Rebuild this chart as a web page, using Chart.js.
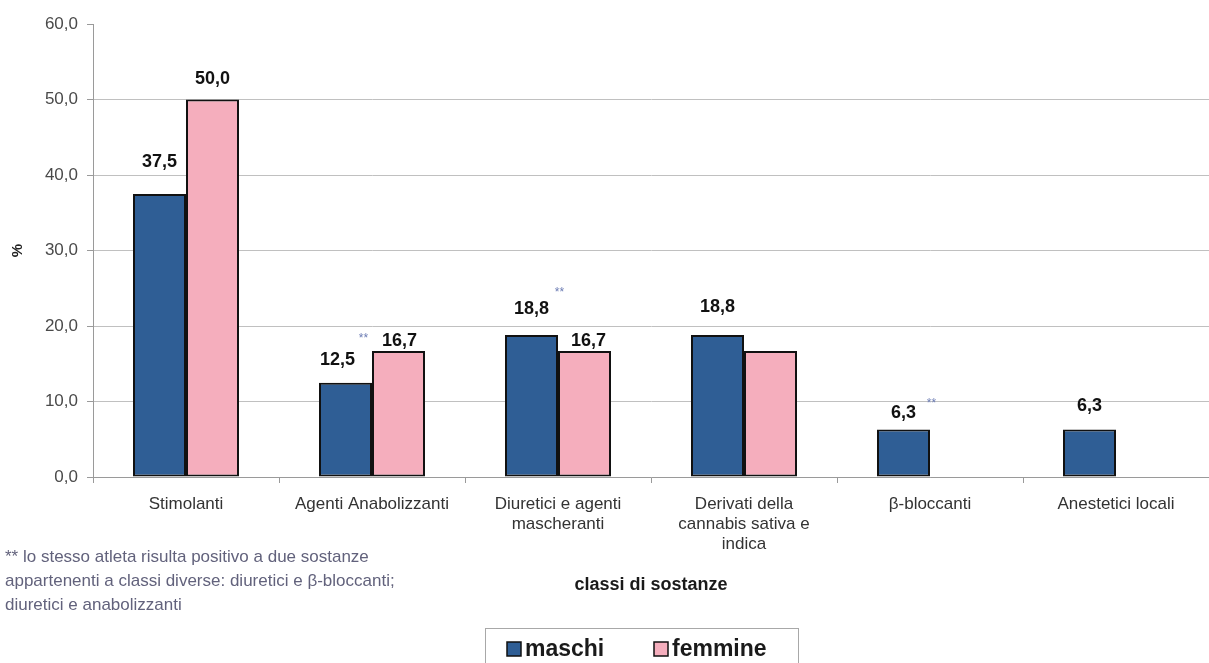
<!DOCTYPE html>
<html lang="it">
<head>
<meta charset="utf-8">
<title>Classi di sostanze</title>
<script src="https://cdn.jsdelivr.net/npm/chart.js@4.4.1/dist/chart.umd.min.js"></script>
<style>
  html, body { margin: 0; padding: 0; background: #fff; overflow: hidden; }
  #grafico { display: block; }
</style>
</head>
<body>
<canvas id="grafico" width="1209" height="663"></canvas>
<script>
// categorie e percentuali per sesso
const categorie = [
    'Stimolanti',
    'Agenti Anabolizzanti',
    ['Diuretici e agenti', 'mascheranti'],
    ['Derivati della', 'cannabis sativa e', 'indica'],
    'β-bloccanti',
    'Anestetici locali'
];
const maschi = [37.5, 12.5, 18.8, 18.8, 6.3, 6.3];
const femmine = [50.0, 16.7, 16.7, 16.7, null, null];

// quali valori vengono stampati sopra le barre
const etichetteMaschi = [true, true, true, true, true, true];
const etichetteFemmine = [true, true, true, false, false, false];

const tickY = [0, 10, 20, 30, 40, 50, 60];

const nota = [
    '** lo stesso atleta risulta positivo a due sostanze',
    'appartenenti a classi diverse: diuretici e β-bloccanti;',
    'diuretici e anabolizzanti'
];

const FONT = "'Liberation Sans', Arial, sans-serif";
const BLU = '#2f5e95';
const ROSA = '#f5aebd';

function formatta(v) {
    return v.toFixed(1).replace('.', ',');
}

// valori sopra le barre + asterischi di richiamo
const pluginEtichette = {
    id: 'etichette',
    afterDatasetsDraw(chart, args, opts) {
        const ctx = chart.ctx;
        ctx.save();
        ctx.textAlign = 'center';
        ctx.textBaseline = 'middle';
        const posizioni = [];
        chart.data.datasets.forEach((ds, d) => {
            const meta = chart.getDatasetMeta(d);
            posizioni[d] = [];
            meta.data.forEach((bar, i) => {
                const v = ds.data[i];
                if (v == null) return;
                const x = bar.x + opts.dx[d][i];
                const y = bar.y - opts.distanza[d][i];
                posizioni[d][i] = { x, y };
                if (!opts.mostra[d][i]) return;
                ctx.font = 'bold 18px ' + FONT;
                ctx.fillStyle = '#111';
                ctx.fillText(formatta(v), x, y);
            });
        });
        ctx.font = '12px ' + FONT;
        ctx.fillStyle = '#6d7db4';
        opts.asterischi.forEach(a => {
            const p = posizioni[a.ds][a.i];
            if (p) ctx.fillText('**', p.x + a.dx, p.y + a.dy);
        });
        ctx.restore();
    }
};

// nota a piè di grafico e legenda incorniciata
const pluginDecorazioni = {
    id: 'decorazioni',
    afterDraw(chart) {
        const ctx = chart.ctx;
        ctx.save();
        ctx.font = '17px ' + FONT;
        ctx.fillStyle = '#62627c';
        ctx.textAlign = 'left';
        ctx.textBaseline = 'middle';
        nota.forEach((riga, k) => ctx.fillText(riga, 5, 557 + k * 24));

        // cornice legenda
        ctx.strokeStyle = '#a8a8a8';
        ctx.lineWidth = 1;
        ctx.strokeRect(485.5, 628.5, 313, 50);

        const voci = chart.data.datasets.map(ds => ({ testo: ds.label, colore: ds.backgroundColor }));
        const xVoci = [507, 654];
        ctx.font = 'bold 23px ' + FONT;
        voci.forEach((v, k) => {
            const x = xVoci[k];
            ctx.fillStyle = v.colore;
            ctx.fillRect(x, 642, 14, 14);
            ctx.strokeStyle = '#111';
            ctx.lineWidth = 1.5;
            ctx.strokeRect(x, 642, 14, 14);
            ctx.fillStyle = '#1a1a1a';
            ctx.fillText(v.testo, x + 18, 650);
        });
        ctx.restore();
    }
};

new Chart(document.getElementById('grafico'), {
    type: 'bar',
    data: {
        labels: categorie,
        datasets: [
            {
                label: 'maschi',
                data: maschi,
                backgroundColor: BLU,
                borderColor: '#111',
                borderWidth: 2,
                borderSkipped: false
            },
            {
                label: 'femmine',
                data: femmine,
                backgroundColor: ROSA,
                borderColor: '#111',
                borderWidth: 2,
                borderSkipped: false
            }
        ]
    },
    options: {
        responsive: false,
        animation: false,
        categoryPercentage: 0.57,
        barPercentage: 1,
        layout: { padding: { top: 24, left: 0, right: 0, bottom: 0 } },
        plugins: {
            legend: { display: false },
            tooltip: { enabled: false },
            etichette: {
                mostra: [etichetteMaschi, etichetteFemmine],
                distanza: [[32, 23, 26, 28, 16, 23], [20, 10, 10, 0, 0, 0]],
                dx: [[0, -8, 0, 0, 0, 0], [0, 1, 4, 0, 0, 0]],
                asterischi: [
                    { ds: 1, i: 1, dx: -36, dy: -2 },
                    { ds: 0, i: 2, dx: 28, dy: -16 },
                    { ds: 0, i: 4, dx: 28, dy: -10 }
                ]
            }
        },
        scales: {
            x: {
                afterFit(scale) { scale.height = 186; },
                grid: {
                    offset: true,
                    drawOnChartArea: false,
                    drawTicks: true,
                    tickLength: 6,
                    tickColor: '#9a9a9a'
                },
                border: { color: '#9a9a9a', width: 1 },
                ticks: {
                    padding: 12,
                    color: '#333',
                    font: { family: FONT, size: 17, lineHeight: 1.15 },
                    maxRotation: 0,
                    autoSkip: false
                },
                title: {
                    display: true,
                    text: 'classi di sostanze',
                    color: '#1a1a1a',
                    font: { family: FONT, size: 18, weight: 'bold' },
                    padding: { top: 0, bottom: 67 }
                }
            },
            y: {
                min: tickY[0],
                max: tickY[tickY.length - 1],
                afterFit(scale) { scale.width = 93; },
                afterBuildTicks(scale) { scale.ticks = tickY.map(v => ({ value: v })); },
                grid: {
                    color: c => (c.tick && c.tick.value === 60) ? 'rgba(0,0,0,0)' : '#c0c0c0',
                    lineWidth: 1,
                    tickLength: 6,
                    tickColor: '#9a9a9a'
                },
                border: { color: '#9a9a9a', width: 1 },
                ticks: {
                    padding: 9,
                    color: '#4a4a4a',
                    font: { family: FONT, size: 17 },
                    callback: v => formatta(v)
                },
                title: {
                    display: true,
                    text: '%',
                    color: '#222',
                    font: { family: FONT, size: 15, weight: 'bold' },
                    padding: { top: 9, bottom: 0 }
                }
            }
        }
    },
    plugins: [pluginEtichette, pluginDecorazioni]
});
</script>
</body>
</html>
